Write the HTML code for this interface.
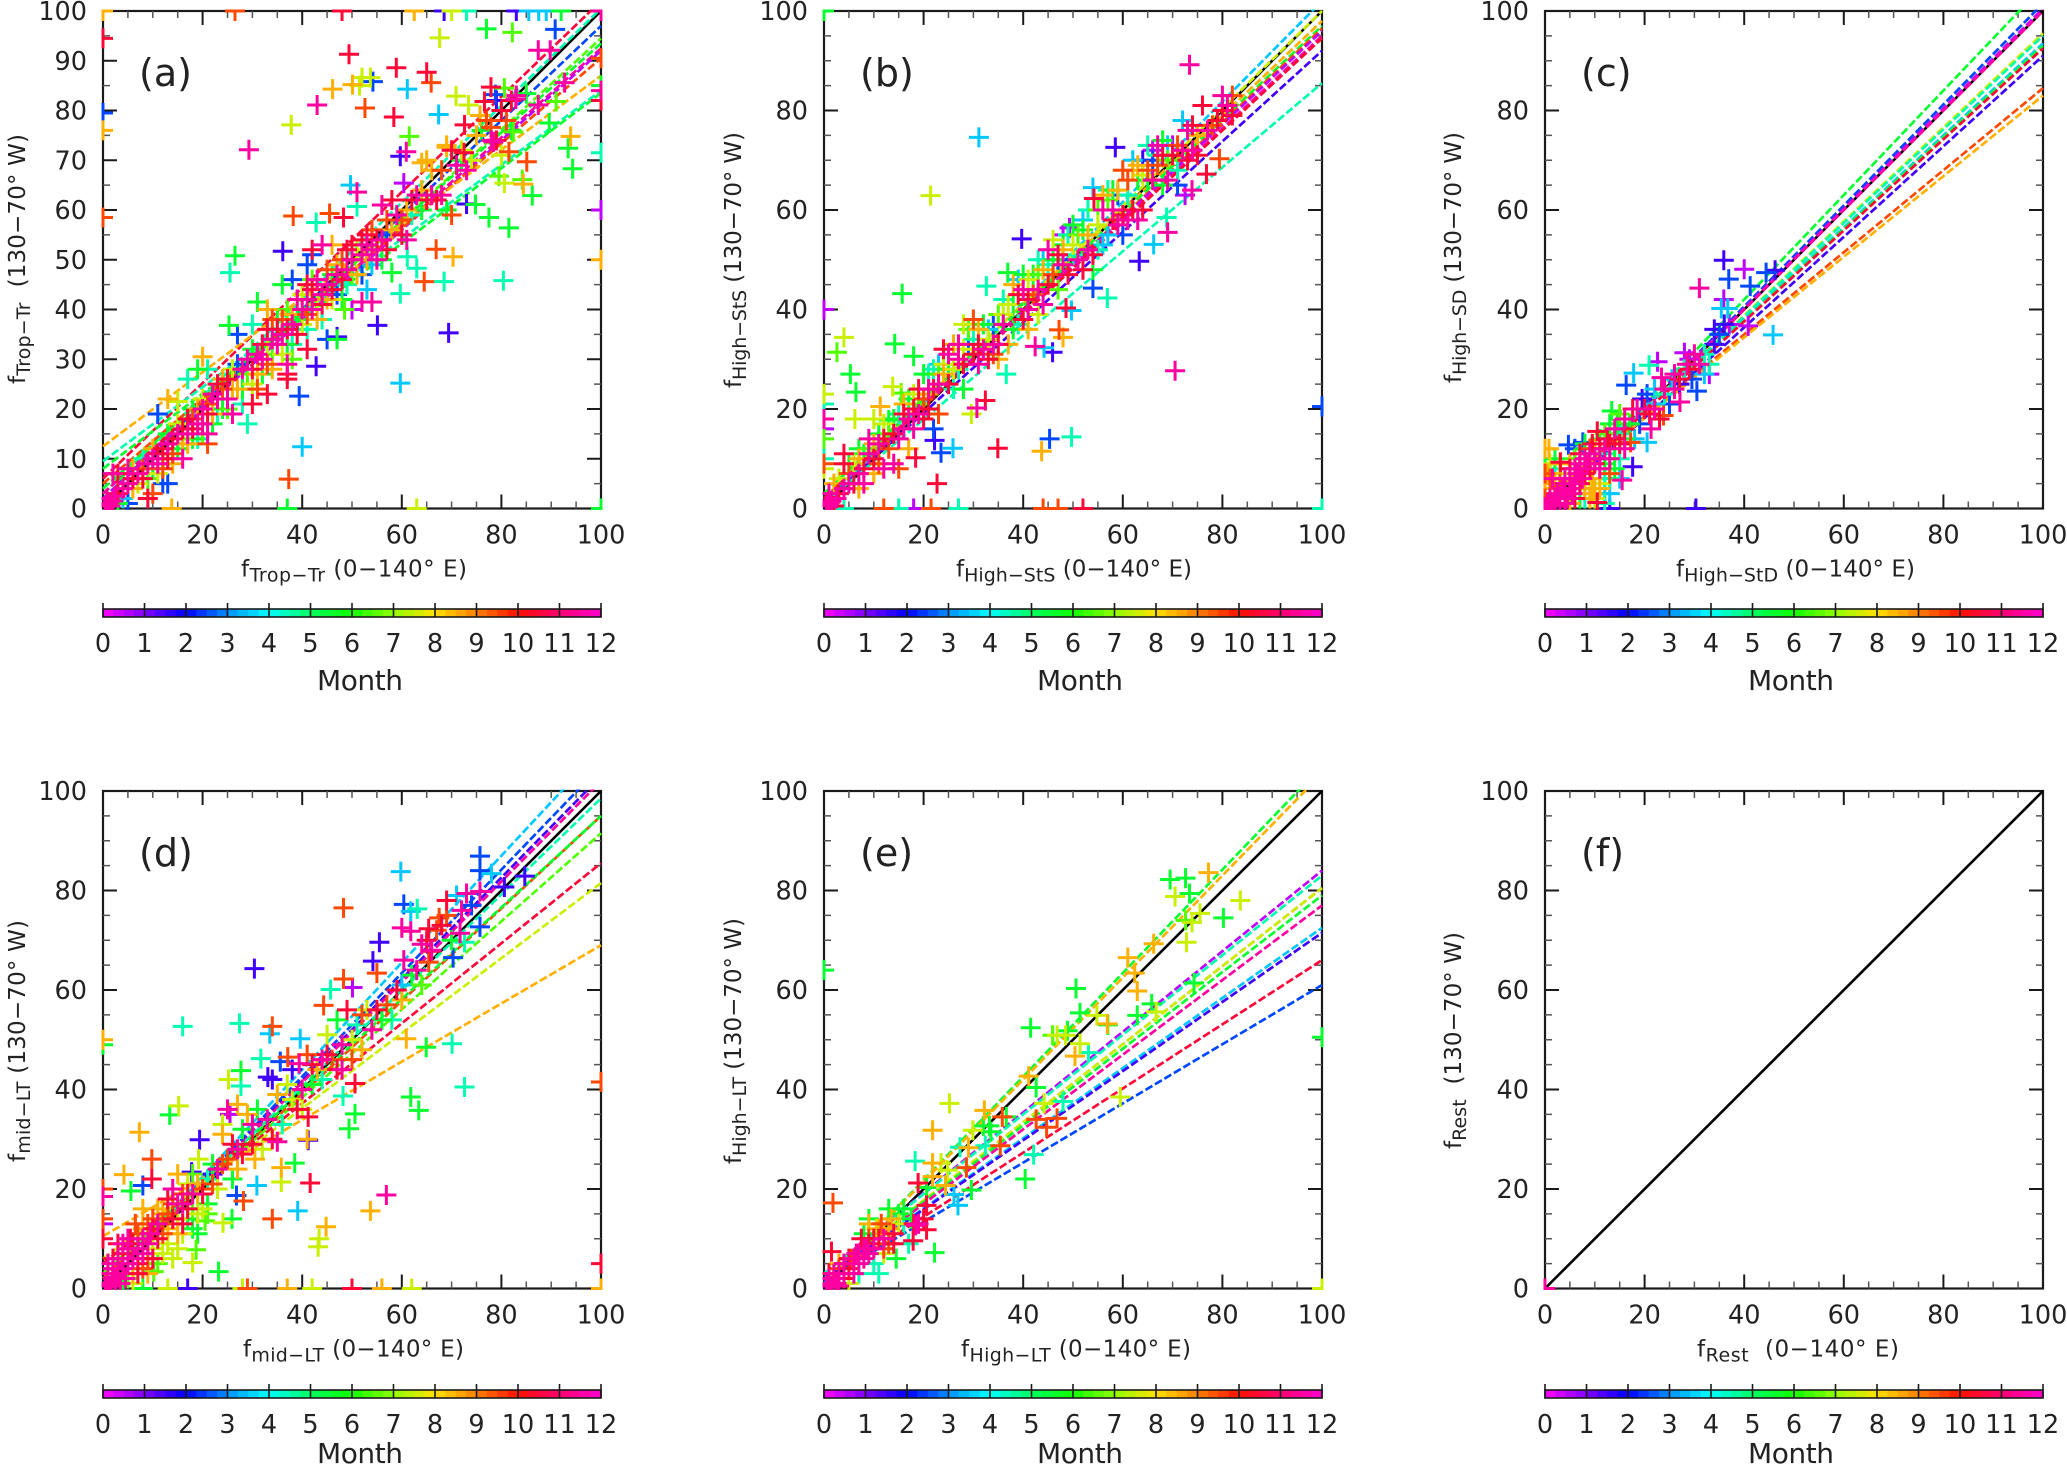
<!DOCTYPE html>
<html lang="en">
<head>
<meta charset="utf-8">
<title>Monthly cloud-regime fractions: 0-140 E vs 130-70 W</title>
<style>
html,body{margin:0;padding:0;background:#fff;}
#figure{display:block;width:2067px;height:1464px;background:#fff;}
text{font-family:"DejaVu Sans","Liberation Sans",sans-serif;fill:#222;}
</style>
</head>
<body>
<svg id="figure" xmlns="http://www.w3.org/2000/svg" width="2067" height="1464" viewBox="0 0 2067 1464"></svg>
<script>
// ---------- shared tick values and colour stops ----------
const xTicks = [0,20,40,60,80,100];
const yTicksDense = [0,10,20,30,40,50,60,70,80,90,100];
const yTicksSparse = [0,20,40,60,80,100];
const minorTicks = [5,10,15,25,30,35,45,50,55,65,70,75,85,90,95];
const monthTicks = [0,1,2,3,4,5,6,7,8,9,10,11,12];
const colourStops = [[255,0,255],[128,0,255],[0,0,255],[0,144,255],[0,255,255],[0,255,96],[16,255,0],[144,255,0],[255,224,0],[255,128,0],[255,16,0],[255,0,112],[255,0,208]];

// ---------- fits: [month, y at x=0, y at x=100] ----------
const fitsA = [[11,6,102],[5,3,100.5],[3,2,97],[7,3,94.5],[6,4,93.5],[12,3,92.5],[1,2,92],[10,5,90.5],[9,12.5,87],[5,9.5,84],[6,8,83.5]];
const fitsB = [[4,1,102],[8,2,100],[9,3,98],[6,3,97],[10,2,96.5],[1,2,96],[12,2,95],[11,2,94.5],[2,1,92],[5,1,85.5]];
const fitsC = [[6,0,105],[3,0,101.5],[1,0,100.5],[12,0,100],[8,1,95.5],[5,1,95],[4,1,93.5],[6,1,93],[11,1,92.5],[2,0,91],[10,2,84.5],[9,2,83]];
const fitsD = [[4,1,108.5],[3,1,105],[2,1,103],[12,1,102],[5,2,98.5],[10,2,95],[6,3,95],[7,3,91.5],[11,5,85.5],[8,6,81.5],[9,10.5,69]];
const fitsE = [[6,1,105],[9,1,103.5],[1,3,84],[5,3,83],[10,2,80.5],[8,2,80.5],[6,2,79],[12,2,77],[4,2,72.5],[2,2,71.5],[11,1.5,66],[3,1.5,61]];
const fitsF = [];

// ---------- points: [x, y, month] ----------
const pointsA = [
[0,100,9],[26.5,100,10],[48,100,11],[62.5,100,9],[68.5,100,2],[70,100,8],[73,100,5],[83,100,2],[85.5,100,4],[87.5,100,4],[89,100,4],[92,100,6],[100,100,12],
[0,94.5,11],[0,79.5,3],[0,76,9],[0,58.5,10],[100,90.5,10],[100,85,6],[100,84,12],[100,82,11],[100,71.5,5],[100,60,1],[100,50,9],[13.8,0,9],[37,0,6],[63,0,8],[100,0,6],
[90.8,96.3,3],[77,96.4,6],[82.2,95.7,7],[67.6,94.6,8],[49.4,91.3,11],[87.4,92.1,12],[89.8,92.1,12],[58.9,88.6,11],[65,87.7,11],[65.9,85.6,10],[54.2,85.8,3],[53.7,86.6,8],[52,86.6,8],[50.1,85.2,9],[51.5,85,8],[46.1,84.3,9],[61.1,84.3,4],[43,81.1,12],[52.6,80.5,10],[58.4,78.7,11],[67.4,79.2,4],[37.8,77.1,8],[61.5,74.8,7],[70.9,82.9,8],[73.4,81.1,8],[77.9,84.7,11],[80.6,84.5,7],[78.8,83.2,3],[76.6,81.8,11],[82.9,82.3,12],[85,83.4,6],[87.4,81.1,12],[91,81.8,7],[92.7,85.6,12],[89.6,77.5,6],[72.6,77.1,11],[75.7,79,9],[77.9,76.6,10],[82.4,75.7,7],[78.4,73.7,12],[72.5,71.5,11],[69,72.6,9],[81.5,71.7,10],[85.1,69.7,10],[93.9,74.8,9],[93.4,72.4,6],[94.3,68.3,6],[79.5,66.8,7],[80.6,65.4,8],[84.2,66.1,7],[84.4,65.2,9],[86.2,62.9,6],[74.8,61.1,6],[73,61.2,2],[77.5,58.5,6],[81.5,56.4,6],[80.4,45.8,5],[70.3,50.6,9],[66.9,52.1,10],[64.5,45.6,10],[68.5,45.6,5],[63,48.3,5],[61.1,50.6,5],[59.7,43.2,5],[58,47.4,6],[69.4,35.3,2],[55.1,36.8,2],[59.7,25.2,4],[39.4,22.6,3],[40,12.4,4],[37.3,5.9,10],[42.8,28.6,2],[29.3,72.1,12],[26.5,50.8,6],[25.5,47.4,5],[25.3,36.8,6],[38.2,58.8,10],[42.8,57.5,5],[45.5,59.3,10],[48.3,58.5,11],[36.1,51.7,2],[49.7,65,4],[51,63.6,12],[51,60.7,5],[59.7,70.8,2],[60.9,71.7,12],[60.4,65.4,1],[64,69.5,9],
[0.5,0.5,12],[1,1,12],[1.5,0.5,12],[2,1.5,12],[0.8,2,12],[2.5,2.5,12],[3,1,6],[4,2,4],[5,1,3],[3,3,11],[4,4,12],[5,5,12],[6,4,9],[6,6,11],[2,7,12],[3,7,11],[5,8,12],[7,7,12],[8,6,11],[8,8,10],[9,2,11],[10,3,10],[12,5,3],[13,5,3],[9,9,12],[10,10,12],[10,8,6],[11,11,11],[11,9,12],[12,12,11],[12,8,10],[13,10,11],[13,13,12],[14,14,11],[14,11,10],[15,15,12],[15,12,6],[16,10,12],[16,16,11],[16,13,9],[17,18,11],[17,15,12],[18,18,10],[18,16,11],[18,14,6],[19,17,12],[19,20,9],[20,20,12],[20,17,12],[21,19,11],[21,15,12],[21,13,10],[22,23,12],[22,19,9],[23,25,11],[23,22,12],[24,24,10],[24,20,6],[25,26,11],[25,22,12],[26,24,9],[26,19,12],[27,29,3],[28,28,12],[28,24,6],
[11,19,3],[13,22,9],[15,21.5,8],[17,26,5],[19,28,6],[20,30.5,9],[21,28,5],[29,17,5],[30,21,11],[33,23,11],[37,27,11],[37,26,11],[37,29,12],[38,33,5],
[29,30,12],[30,28,11],[31,31,12],[31,27,9],[32,33,11],[32,30,12],[33,36,11],[33,29,10],[34,34,12],[34,31,7],[34,38,10],[35,36,11],[35,33,12],[36,35,12],[36,38,10],[37,36,11],[37,33,6],[38,37,12],[38,39,9],[39,35,11],[39,42,12],[40,40,12],[40,37,8],[41,45,11],[41,42,12],[41,39,10],[42,44,11],[42,40,12],[43,46,12],[43,38,9],[44,41,11],[44,43,12],[45,45,12],[45,48,10],[46,44,11],[46,42,8],[47,47,12],[47,49,9],[48,46,11],[48,50,10],[49,48,12],[49,52,11],
[45,34,3],[47,34.5,2],[47,34,6],[41,32,11],[31,41.5,6],[36,45,6],[38,46,3],[41,49,3],[42,51,3],[33,40,9],[30,37,5],[27,35,3],[52,41.5,12],[54,41.5,12],[53,44,4],[50,40,1],[48.5,40,7],
[50,53,11],[50,50,12],[51,47,9],[52,54,11],[52,51,12],[53,53,12],[53,55,11],[54,52,12],[54,56,10],[55,54,11],[55,50,12],[56,54,12],[56,61,12],[57,52,11],[57,58,10],[58,62,11],[58,56,9],[59,59,12],[60,58,10],[60,55,11],[61,54,12],[61,60,9],[62,62,11],[62,59,5],[63,63,12],[64,64,9],[64,60,6],[65,62,11],[66,63,12],[67,62,11],[68,63,12],[70,59,10],[69,60,6],[46,53,9],[44,53,12],[42,52,11],[48,42,6],
[70,72,11],[71,69,12],[72,70,6],[73,68,12],[75,75,9],[76,76,6],[77,78,10],[78,74,12],[79,74,11],[80,80,11],[81,78,10],[82,76,6],[66,68,9],[68,68,10],[69,73,9],[65,70,9],[72,72,8],[74,70,8],[80,71,8],[82,82,11],[83,83,12],[79,82,2],
[4,6,6],[6,8,9],[7,5,8],[8,10,5],[9,6,7],[10,12,9],[11,7,8],[12,10,5],[13,15,6],[14,9,9],[15,17,8],[16,14,7],[17,13,9],[18,20,6],[19,14,5],[20,22,8],[20,15,7],[21,21,10],[22,17,6],[23,19,5],[24,26,9],[25,20,7],[26,28,8],[27,24,9],[28,21,5],[29,27,7],[30,32,6],[30,25,8],[31,24,10],[32,27,6],[33,33,8],[34,28,9],[35,38,6],[36,31,8],[37,40,7],[38,30,7],[39,38,6],[40,43,8],[41,36,5],[42,46,7],[43,41,8],[44,38,5],[45,42,9],[46,47,6],[47,43,3],[48,48,8],[49,45,5],[50,47,7],[51,52,8],[52,47,3],[53,50,9],[54,49,4],[55,52,8],[56,50,6],[57,55,3]
];
const pointsB = [
[0,100,6],[0,40,1],[0,23,8],[0,21,5],[0,18,12],[0,16,1],[0,14,7],[0,10,5],[0,9,10],[0,8,8],[100,20.5,3],[100,0,5],[4,0,5],[12,0,10],[15,0,5],[18,0,1],[21.5,0,10],[27,0,5],[44,0,10],[47,0,10],[52,0,11],
[73.4,89.2,12],[31.1,74.6,4],[21.4,62.9,8],[58.5,72.6,2],[39.7,54.2,2],[32.6,44.7,5],[15.7,43.2,6],[36.9,47.4,6],[4,34.4,8],[2.6,31.4,7],[5.3,27,6],[6.4,23.4,6],[6.2,18,8],[10,18,8],[11.3,20.5,9],[14.2,33.1,6],[18,30.6,6],[13.8,24.5,8],[15.5,23.2,7],[13,17.8,6],[70.5,27.7,12],[69,55.5,12],[68.8,58.5,5],[66.2,53.1,4],[63.3,49.7,2],[56.9,42.3,5],[54,44.3,3],[54,64.5,4],[54.2,62.3,11],[49.3,56.4,1],[76.8,67.2,11],[79.4,70.3,10],[73.9,64,12],[72.5,63,1],[71,65,3],[48.6,40.3,11],[49.7,39.8,4],[47.2,35.9,10],[48,34.4,9],[45.9,31.4,2],[44.2,32.3,4],[42.4,32.6,12],[36.6,27,5],[32.4,21.7,11],[30.7,20.2,12],[29.6,19,8],[25.9,12.1,4],[23.5,11.2,3],[22.2,13.7,2],[18.4,10.2,11],[22.7,5,11],[34.9,12.1,11],[45.3,14,3],[49.7,14.4,5],[43.7,11.5,9],
[0.5,0.5,12],[1,1,12],[1.5,1.5,12],[2,0.5,11],[2.5,2,12],[1,3,12],[3,3,11],[4,4,12],[2,5,9],[3,6,8],[5,5,12],[6,5,11],[5,7,10],[4,9,11],[7,7,12],[7,4,9],[8,8,11],[8,5,12],[4,11,11],[7,12,6],[9,11,12],[9,14,12],[10,10,11],[10,7,9],[11,13,12],[11,9,10],[12,14,11],[12,8,12],[13,12,10],[14,15,11],[14,9,12],[15,14,12],[15,8,10],[16,19,11],[16,16,12],[17,18,12],[17,12,9],[18,20,11],[18,16,12],[19,24,11],[19,19,12],[20,22,10],[20,18,11],[21,24,12],[21,27,5],[21,20,11],[22,24,11],[22,16,3],[23,25,12],[23,29,4],[23,19,10],[24,32,11],[24,27,9],[25,25,11],[25,31,12],[26,28,8],[26,24,5],[27,30,12],[27,33,12],[28,29,11],[28,37,8],[28,24,6],[29,33,3],[30,38,10],[30,31,11],[31,33,11],[31,29,12],[32,32,12],[33,36,4],[33,30,11],[34,33,12],[34,31,10],[35,33,11],[35,30,9],[36,39,8],[36,37,12],[37,33,9],[38,45,9],[38,36,6],[39,43,11],[39,37,5],[40,44,12],[40,38,11],[41,42,11],[41,40,12],[41,36,9],[42,47,6],[42,43,10],[43,50,5],[43,44,12],[43,39,8],[44,48,9],[44,41,12],[45,52,12],[45,45,11],[46,50,6],[46,47,10],[47,51,11],[47,44,7],[48,55,1],[48,53,6],[48,49,12],[49,47,11],[50,51,5],[50,53,8],[51,50,12],[51,55,7],[52,48,11],[52,56,6],[53,52,12],[53,55,9],[54,51,11],[54,48,6],[55,57,8],[55,52,5],[56,60,12],[56,53,4],[57,62,7],[57,55,4],[58,60,12],[58,58,11],[59,57,12],[59,64,9],[60,59,11],[60,55,3],[61,58,12],[61,66,10],[62,60,11],[62,68,9],[63,66,6],[63,58,12],[64,70,2],[64,60,11],[65,73,5],[65,68,10],[66,72,1],[66,66,12],[67,73,12],[67,69,10],[68,71,11],[68,65,6],[69,73,4],[69,66,12],[70,71,11],[71,73,10],[71,68,5],[72,78,4],[72,72,12],[73,76,12],[73,70,11],[74,77,11],[74,72,12],[75,71,11],[75,75,9],[76,81,11],[77,76,12],[78,77,10],[79,78,11],[80,83,12],[80,80,11],[81,81,12],[82,83,10],[82,79,11],
[5,9,6],[6,9,8],[7,10,9],[8,11,6],[9,12,7],[10,13,9],[11,15,6],[12,17,8],[13,15,7],[14,18,6],[15,19,5],[16,21,9],[17,22,6],[18,23,8],[19,21,7],[20,27,6],[21,23,9],[22,28,5],[23,27,7],[24,29,8],[25,28,6],[26,33,9],[27,28,5],[28,32,8],[29,36,7],[30,34,5],[31,36,9],[32,37,6],[33,34,8],[34,37,3],[35,39,7],[36,42,5],[37,41,8],[38,41,6],[39,46,4],[40,47,6],[41,46,8],[42,43,5],[43,47,7],[44,50,4],[45,49,5],[46,54,8],[47,50,3],[48,52,9],[49,55,5],[50,57,6],[52,58,4],[53,60,5],[55,60,7],[56,63,9],[57,64,5],[58,64,6],[59,63,3],[60,68,10],[61,63,5],[62,70,4],[63,69,9],[64,67,8],[65,66,6],[66,70,3],[67,71,5],[68,74,6],[69,70,7],[70,73,1]
];
const pointsC = [
[35.9,49.9,2],[40,48.1,1],[31,44.3,12],[36.9,46.1,3],[44.4,47.4,3],[46.2,47.9,2],[41.2,44.7,3],[35.9,42,1],[35.4,40.2,4],[36.7,40.2,4],[45.8,34.9,4],[40.8,36.7,1],[16.3,24.8,3],[17.8,27.2,4],[20.9,28.8,5],[22.6,29.5,1],[28,31.3,1],[23.4,26.3,12],[30.5,23.6,3],[27.1,21.4,12],[23.8,18.7,10],[21.3,16,12],[20.5,13.3,4],[30.3,0,2],[13,0,2],[15.5,5.7,12],[17.6,8.4,2],[17.2,13.3,10],[17.6,20,11],[13.4,19.6,6],[10.5,15.5,11],[4.7,12.8,3],[7.6,13.3,3],[3.1,9.3,11],[0.8,12,9],[10.5,1.2,11],
[0,0,12],[0.5,1,12],[1,0.5,12],[1,2,12],[1.5,1,12],[2,0.5,12],[2,2,12],[2.5,3,12],[3,1,12],[3,2.5,12],[3.5,4,12],[4,1,12],[4,3,12],[4,5,12],[4.5,2,12],[5,4,12],[5,6,12],[5.5,3,12],[6,5,12],[6,2,11],[6.5,7,12],[7,5,11],[7,8,12],[7.5,6,12],[8,7,11],[8,4,9],[8.5,9,12],[9,8,11],[9,11,12],[9.5,6,9],[10,10,12],[10,9,11],[10,4,9],[11,8,12],[11,12,11],[11,10,12],[12,12,12],[12,9,6],[12.5,14,11],[13,10,12],[13,7,10],[14,12,6],[14,14,11],[14.5,17,6],[15,13,11],[15,10,5],[16,16,11],[16,12,12],[17,17,6],[18,14,4],[18.5,20,12],[19,17,3],[19.5,22,2],[20,20,11],[20.5,23,3],[21,19,11],[22,24,4],[22,20,12],[23,18,11],[24,23,5],[25,21,3],[25.5,26,4],[26,24,12],[27,25,2],[28,28,5],[28.5,29,12],[29,30,1],[29.5,26,3],[31,29,12],[32,31,5],[33,27,1],[34,33,2],[35,35,3],[36,37,2],[2,8,5],[1,9,8],[0,12,9],[0.5,7,9],[1.5,6,12],[2,5,9],[0,4,9],[3,7,8],[5,9,9],[6,10,7],[8,12,6],[7,2,6],[9,2,9],[9.5,3,9],[11,5,8],[12,3,4],[13,6,5],
[1,3,9],[2,3,10],[3,5,10],[4,6,12],[5,8,11],[6,8,12],[7,9,12],[7,11,11],[8,10,12],[8,13,6],[9,12,10],[9.5,13,11],[10,12,9],[11,14,6],[12,11,5],[12,15,7],[13,13,11],[13,17,6],[14,16,12],[15,15,5],[15,19,7],[16,18,12],[16,14,6],[3,9,9],[2,10,6],[1,6,10],[0,7,10],[0,2,10],[0,9,6],[6,12,3],[5,1,9],[8,2,5],[10,2,8],[11,4,9],[12,6,5],[13,3,4],[9,5,8],[14,8,6],[15,6,4],[12,1,5],[22,21,4],[24,24,12],[26,27,12],[27,26,11],[29,28,11],[30,31,12],[32,27,4],[33,29,5],[34,36,2],[37,37,1]
];
const pointsD = [
[0,50,9],[0,49,6],[0,20,10],[0,18.5,12],[0,14,10],[0,10,11],[0,13,1],[100,41.5,10],[100,5,11],[100,0,9],[8,0,6],[13,0,8],[17,0,2],[28,0,8],[29,0,10],[37,0,9],[42,0,8],[50,0,11],[56,0,9],[62,0,8],
[59.8,83.8,4],[75.7,86.9,3],[75.7,84,3],[78,83.4,4],[84.7,82.9,2],[80.6,80.7,2],[48.3,76.5,10],[60.4,77.2,3],[63.1,76.3,5],[61.8,75.8,4],[55.5,69.6,2],[54.2,65.8,2],[30.4,64.3,2],[48.3,62.2,10],[55,63.4,10],[45.7,60.1,5],[50.1,60.5,1],[44.3,56.9,10],[60,72.5,12],[61.8,71.8,12],[69,78,11],[73,79.4,12],[75.7,79.8,12],[69,75,10],[67.5,74.5,10],[65.4,72.3,11],[64,69.2,12],[65.8,67.8,11],[65.4,65.6,10],[70.3,66.5,3],[71.7,71.4,12],[75.7,72.7,3],[72.6,69.6,5],[60.4,66,12],[16,52.7,5],[27.4,53.3,5],[34,52.7,10],[33.5,51.2,4],[39.6,50.2,4],[27.7,43.8,6],[25.2,42,8],[27.7,40.7,5],[31.7,46.2,5],[33.1,42.5,2],[34,42,2],[35.6,45.6,3],[37.1,46.5,10],[39.4,45.2,12],[13.4,34.9,6],[15.2,36.7,8],[7.3,31.4,9],[9.8,26,10],[4.2,22.9,9],[9.8,22,11],[8,20.7,3],[5.6,19.6,6],[19.4,29.9,2],[17.8,23.4,2],[19.2,26,8],[26.8,18.7,3],[28.2,17.6,10],[30.9,20.7,4],[34,14,10],[35.8,24.3,9],[35.8,21.4,8],[38.5,25.2,6],[41.6,21.2,11],[39.1,15.6,4],[53.7,15.6,9],[56.9,18.8,12],[44.8,12.4,9],[43.4,10,8],[43.2,8.4,8],[23.2,3.4,6],[25.9,14,6],[24.1,13.2,8],[20.5,13.6,7],[18,5.2,8],[18.7,7.8,7],[10.2,3.4,7],[60.9,50.2,9],[64.9,48.5,6],[70.1,49.2,5],[72.6,40.5,5],[61.8,38.5,6],[63.4,35.8,6],[50.6,35.1,6],[49.4,32.1,6],[48.2,38.7,5],[50.6,41.2,11],[41.2,29.8,2],[41.2,34.5,11],[41,30,9],
[0.5,0.5,12],[1,1,12],[1,3,12],[1.5,0.5,12],[2,2,12],[2,4,12],[2.5,1,12],[3,3,12],[3,6,12],[3.5,1,12],[4,4,12],[4,7,11],[4.5,2,12],[5,5,12],[5,8,12],[5.5,10,11],[6,6,12],[6,3,9],[6.5,13,10],[7,8,12],[7,5,11],[8,10,12],[8,7,12],[8,16,9],[9,9,12],[9,6,10],[9.5,11,12],[10,14,10],[10,8,8],[11,10,11],[11,13,12],[12,11,10],[12,15,9],[13,18,11],[13,12,9],[14,20,12],[14,14,11],[15,23,9],[15,17,12],[15,8,8],[16,19,10],[16,13,11],[17,16,11],[17,21,8],[18,19,12],[18,12,6],[19,19,9],[19,15,8],[20,19,11],[21,17,6],[22,25,6],[22,21,10],[23,20,8],[24,31,9],[24,33,8],[25,26,10],[25,36,12],[25.5,35,1],[26,29,11],[26,22,6],[27,28,12],[27,24,9],[27,37,9],[28,27,11],[28,32,6],[29,35,9],[30,29,11],[30,33,12],[30.5,26,9],[31,36,6],[32,28,8],[33,34,12],[34,30,11],[35,29.5,12],[35,39,9],[36,33,5],[37,41,8],[38,38,8],[38,44,2],[39,36,11],[40,40,12],[40,36,8],[41,47,10],[42,45,11],[42,41,6],[43,44,9],[44,46,12],[44,42,5],[45,51,8],[45,47,11],[46,46,10],[47,54,6],[47,44,11],[48,49,12],[48,44,12],[49,56,11],[50,50,8],[50,46,10],[51,53,5],[52,48,9],[52,55,10],[53,56,8],[54,52,12],[55,56,11],[56,54,6],[57,57,10],[58,54,5],[59,60,11],[60,61,4],[60,58,9],[62,63,6],[63,64,12],[64,61,7],[65,70,11],[66,68,12],[67,72,10],[68,73,11],[70,70,6],[71,79,4],[72,76,12],[74,77,3],
[1,5,12],[2,6,11],[3,9,11],[4,9,12],[5,10,12],[6,9,11],[7,11,10],[8,12,9],[9,13,10],[10,12,11],[11,16,9],[12,13,10],[13,15,10],[14,17,10],[15,14,8],[16,17,12],[17,19,11],[18,23,7],[19,21,9],[20,20,10],[21,22,5],[22,23,2],[23,24,12],[24,25,10],[4,1,6],[5,2,7],[6,1,8],[7,3,11],[8,4,10],[9,3,9],[10,6,11],[11,5,7],[12,7,8],[13,9,8],[14,6,8],[15,11,9],[16,11,8],[17,14,6],[18,16,7],[19,11,6],[20,16,8],[21,15,7]
];
const pointsE = [
[0,64,6],[100,50.5,6],[100,0,8],
[77.2,83.6,9],[69.5,82.2,6],[72.6,82.5,6],[73.4,79.4,6],[70.5,78.8,8],[83.6,78,8],[80.2,74.5,6],[75.5,75.4,8],[73.9,73.6,8],[72.6,74,7],[72.8,69.6,8],[66.2,69.3,9],[61,66.5,9],[62.4,63.4,9],[62.9,59.8,9],[50.6,60.3,6],[51.4,55.4,6],[62.9,54.9,6],[65.8,57.2,6],[66.7,55.6,8],[54.8,54.9,8],[56.9,53.2,9],[57,53,6],[41.5,52.4,6],[45.9,50.9,7],[46.8,50.9,8],[48.5,50.9,8],[48.9,51.8,6],[51.4,49.2,8],[50.4,46.7,9],[53.1,47.4,5],[74.3,61.4,6],[59.5,38.5,8],[41.1,42.7,9],[42.6,40.4,6],[44.2,37.2,8],[48,37.6,5],[42.6,34,10],[44.7,32.4,10],[46.8,34.2,10],[42.1,26.9,5],[40.4,22,6],[25.2,37.2,8],[32.2,35.8,9],[35.8,34.5,10],[36.6,34.5,6],[21.8,31.8,9],[33.2,32.7,6],[32,32.7,6],[29.9,31.8,8],[33.5,31.5,6],[32.4,28.7,5],[29,28.3,9],[27.3,28.4,5],[35.4,28.7,10],[28.6,24.3,10],[18.3,25.6,5],[21.8,25.2,9],[23.5,25.2,8],[18.9,21.2,11],[20.6,20.3,6],[21.8,22.5,9],[24.8,23.8,8],[24.4,20.7,9],[29.6,19.8,6],[26.1,18.9,4],[26.9,16.7,4],[20.6,16.7,11],[20.6,11.8,11],[18.4,12.7,12],[17.9,9.6,11],[22.2,7.2,6],[1.8,17.2,10],[1.5,7.4,11],
[0.5,0.5,12],[1,1,12],[1.5,0.5,12],[2,2,12],[2.5,1,12],[3,0.5,12],[1,3,11],[3,3,12],[4,2,11],[3,5,9],[4,5,12],[5,4,11],[5,1,8],[5.5,6,10],[6,3,12],[6.5,7,12],[7,5,12],[7,3,5],[7.5,10,11],[8,6,12],[8.5,8,12],[9,7,12],[9,9,11],[10,5,5],[10,8,12],[10.5,12,8],[11,10,11],[11.5,13,10],[12,8,10],[12,11,9],[13,12,9],[13.5,14,9],[14,9,11],[14.5,6,6],[9,14,6],[15,15,6],[16,13,5],[17,9,5],[17.5,14,6],
[1,2,12],[2,3,12],[3,4,10],[4,3,12],[5,6,11],[6,6,12],[7,7,12],[8,8,12],[9,10,10],[10,10,11],[11,12,9],[12,10,12],[13,9,10],[14,11,11],[8,11,6],[9,13,9],[15,13,8],[16,16,6],[13,16,6],[11,3,5],[12,7,8],[19,13,12],[20,14,11],[18,13,11]
];
const pointsF = [[0,0,12]];

// ---------- panel layouts ----------
const NS = 'http://www.w3.org/2000/svg';
const svg = document.getElementById('figure');
const panels = [
 {id:'a',points:pointsA,fits:fitsA,yTicks:yTicksDense,left:103,top:11,lx:241,lw:226,mdx:8,xSub:'Trop\u2212Tr',xTail:' (0\u2212140\u00b0 E)',ySub:'Trop\u2212Tr',yTail:'  (130\u221270\u00b0 W)',yb:25,y1:134,yh:250},
 {id:'b',points:pointsB,fits:fitsB,yTicks:yTicksSparse,left:824,top:11,lx:956,lw:236,mdx:7,xSub:'High\u2212StS',xTail:' (0\u2212140\u00b0 E)',ySub:'High\u2212StS',yTail:' (130\u221270\u00b0 W)',yb:741,y1:132,yh:256},
 {id:'c',points:pointsC,fits:fitsC,yTicks:yTicksSparse,left:1545,top:11,lx:1676,lw:239,mdx:-3,xSub:'High\u2212StD',xTail:' (0\u2212140\u00b0 E)',ySub:'High\u2212SD',yTail:' (130\u221270\u00b0 W)',yb:1461,y1:132,yh:251},
 {id:'d',points:pointsD,fits:fitsD,yTicks:yTicksSparse,left:103,top:791,lx:243,lw:221,mdx:8,xSub:'mid\u2212LT',xTail:' (0\u2212140\u00b0 E)',ySub:'mid\u2212LT',yTail:' (130\u221270\u00b0 W)',yb:25,y1:920,yh:242},
 {id:'e',points:pointsE,fits:fitsE,yTicks:yTicksSparse,left:824,top:791,lx:961,lw:230,mdx:7,xSub:'High\u2212LT',xTail:' (0\u2212140\u00b0 E)',ySub:'High\u2212LT',yTail:' (130\u221270\u00b0 W)',yb:741,y1:918,yh:246},
 {id:'f',points:pointsF,fits:fitsF,yTicks:yTicksSparse,left:1545,top:791,lx:1697,lw:202,mdx:-3,xSub:'Rest',xTail:'  (0\u2212140\u00b0 E)',ySub:'Rest',yTail:'  (130\u221270\u00b0 W)',yb:1461,y1:932,yh:217}
];
const plotW = 498;
const plotH = 497.5;

function colourAt(v){
  const i = Math.min(Math.floor(v), colourStops.length - 2);
  const t = v - i;
  const a = colourStops[i];
  const b = colourStops[i + 1];
  const c = [0,1,2].map(function(k){ return Math.round(a[k] + (b[k] - a[k]) * t); });
  return 'rgb(' + c.join(',') + ')';
}
function make(parent, tag, attrs){
  const e = document.createElementNS(NS, tag);
  for (const k in attrs) e.setAttribute(k, attrs[k]);
  parent.appendChild(e);
  return e;
}
function addSpans(textEl, sub, tail, big, small){
  const f = make(textEl, 'tspan', {'font-size': big});
  f.textContent = 'f';
  const s = make(textEl, 'tspan', {'font-size': small, dy: 5});
  s.textContent = sub;
  const r = make(textEl, 'tspan', {'font-size': big, dy: -5});
  r.textContent = tail;
  textEl.setAttribute('xml:space', 'preserve');
  textEl.style.whiteSpace = 'pre';
}

panels.forEach(function(p){
  const sx = function(v){ return p.left + v * plotW / 100; };
  const sy = function(v){ return p.top + plotH - v * plotH / 100; };
  const bottom = p.top + plotH;
  const right = p.left + plotW;
  const g = make(svg, 'g', {});
  
  

  const clip = make(g, 'clipPath', {id: 'clip-' + p.id});
  make(clip, 'rect', {x: p.left - 1.5, y: p.top - 1.5, width: plotW + 3, height: plotH + 3});

  // frame and ticks
  const frame = make(g, 'rect', {x: p.left, y: p.top, width: plotW, height: plotH, fill: 'none', stroke: '#1a1a1a', 'stroke-width': 2.2});
  
  
  const axes = make(g, 'g', {});
  
  
  minorTicks.forEach(function(v){
    const isXMajor = xTicks.indexOf(v) >= 0;
    if (!isXMajor) {
      make(axes, 'line', {x1: sx(v), x2: sx(v), y1: bottom, y2: bottom - 7, stroke: '#555', 'stroke-width': 1.5});
      make(axes, 'line', {x1: sx(v), x2: sx(v), y1: p.top, y2: p.top + 7, stroke: '#555', 'stroke-width': 1.5});
    }
    if (p.yTicks.indexOf(v) < 0) {
      make(axes, 'line', {x1: p.left, x2: p.left + 7, y1: sy(v), y2: sy(v), stroke: '#555', 'stroke-width': 1.5});
      make(axes, 'line', {x1: right, x2: right - 7, y1: sy(v), y2: sy(v), stroke: '#555', 'stroke-width': 1.5});
    }
  });
  xTicks.forEach(function(v){
    make(axes, 'line', {x1: sx(v), x2: sx(v), y1: bottom, y2: bottom - 14, stroke: '#1a1a1a', 'stroke-width': 2});
    make(axes, 'line', {x1: sx(v), x2: sx(v), y1: p.top, y2: p.top + 14, stroke: '#1a1a1a', 'stroke-width': 2});
    const t = make(g, 'text', {x: sx(v), y: bottom + 35, 'font-size': 25.5, 'text-anchor': 'middle'});
    t.textContent = v;
    
    
  });
  p.yTicks.forEach(function(v){
    make(axes, 'line', {x1: p.left, x2: p.left + 14, y1: sy(v), y2: sy(v), stroke: '#1a1a1a', 'stroke-width': 2});
    make(axes, 'line', {x1: right, x2: right - 14, y1: sy(v), y2: sy(v), stroke: '#1a1a1a', 'stroke-width': 2});
    const t = make(g, 'text', {x: p.left - 16, y: sy(v) + 9, 'font-size': 25.5, 'text-anchor': 'end'});
    t.textContent = v;
    
    
  });

  // clipped marks
  const marks = make(g, 'g', {'clip-path': 'url(#clip-' + p.id + ')'});
  const oneToOne = make(marks, 'line', {x1: sx(0), y1: sy(0), x2: sx(100), y2: sy(100), stroke: '#000', 'stroke-width': 2.6});
  
  
  p.fits.forEach(function(f){
    const l = make(marks, 'line', {x1: sx(0), y1: sy(f[1]), x2: sx(100), y2: sy(f[2]), stroke: colourAt(f[0] - 0.5), 'stroke-width': 2.7, 'stroke-dasharray': '8 3'});
    
    
  });
  const ordered = p.points.slice().sort(function(a, b){ return a[2] - b[2]; });
  ordered.forEach(function(pt){
    const cx = sx(pt[0]);
    const cy = sy(pt[1]);
    const m = make(marks, 'path', {d: 'M' + (cx - 10) + ' ' + cy + 'H' + (cx + 10) + 'M' + cx + ' ' + (cy - 10) + 'V' + (cy + 10), fill: 'none', stroke: colourAt(pt[2] - 0.5), 'stroke-width': 3});
    
    
  });

  // panel letter
  const letter = make(g, 'text', {x: p.left + 36, y: p.top + 75, 'font-size': 38, style: '-webkit-text-stroke:1.5px #111;'});
  letter.textContent = '(' + p.id + ')';
  
  

  // axis titles
  const xt = make(g, 'text', {x: p.lx, y: bottom + 68, textLength: p.lw, lengthAdjust: 'spacing'});
  addSpans(xt, p.xSub, p.xTail, 23, 19);
  
  
  const yt = make(g, 'text', {x: 0, y: 0, textLength: p.yh, lengthAdjust: 'spacing', transform: 'translate(' + p.yb + ' ' + (p.y1 + p.yh) + ') rotate(-90)'});
  addSpans(yt, p.ySub, p.yTail, 23, 19);
  
  

  // colour bar
  const barTop = p.top === 11 ? 609 : 1390;
  const cb = make(g, 'g', {});
  
  
  const sm = function(v){ return p.left + v * plotW / 12; };
  for (let i = 0; i < 48; i++) {
    make(cb, 'rect', {x: sm(i / 4), y: barTop, width: plotW / 48 + 0.4, height: 8, fill: colourAt((i + 0.5) / 4)});
  }
  make(cb, 'rect', {x: p.left, y: barTop, width: plotW, height: 8, fill: 'none', stroke: '#1a1a1a', 'stroke-width': 1.6});
  monthTicks.forEach(function(v){
    make(cb, 'line', {x1: sm(v), x2: sm(v), y1: barTop - 6, y2: barTop + 8, stroke: '#1a1a1a', 'stroke-width': 1.6});
    const t = make(cb, 'text', {x: sm(v), y: barTop + 43, 'font-size': 25.5, 'text-anchor': 'middle'});
    t.textContent = v;
    
    
  });
  const mt = make(cb, 'text', {x: p.left + plotW / 2 + p.mdx, y: p.top === 11 ? 690 : 1463, 'font-size': 28, 'text-anchor': 'middle', textLength: 86, lengthAdjust: 'spacing'});
  mt.textContent = 'Month';
  
  
});
</script>
</body>
</html>
